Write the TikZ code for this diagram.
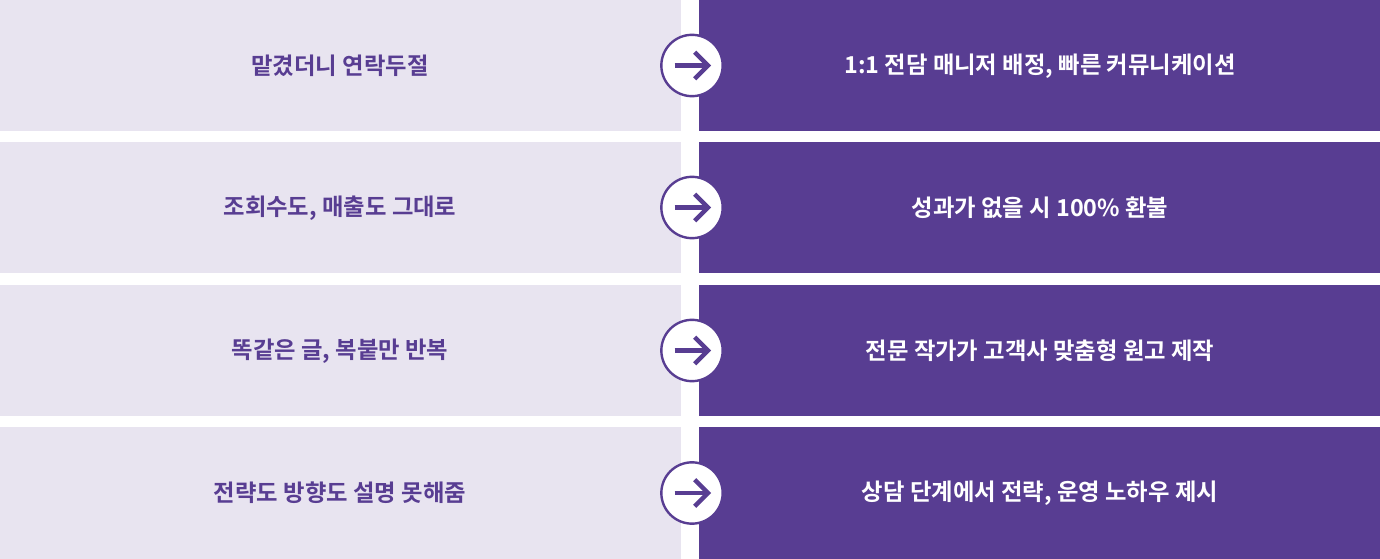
\documentclass[tikz,border=0pt]{standalone}
\usepackage{fontspec}
\setmainfont{Noto Sans CJK KR}[BoldFont={* Bold}]
\definecolor{lav}{HTML}{E8E4F0}
\definecolor{pur}{HTML}{583D92}
\begin{document}
\begin{tikzpicture}[x=0.75pt,y=-0.75pt,
  lbox/.style={fill=lav,draw=none},
  rbox/.style={fill=pur,draw=none},
  ltxt/.style={text=pur,font=\fontsize{17.5}{20}\selectfont\bfseries},
  rtxt/.style={text=white,font=\fontsize{17.5}{20}\selectfont\bfseries},
  circ/.style={circle,fill=white,draw=pur,line width=1.8pt,minimum size=46pt,inner sep=0pt}]
\fill[white] (0,0) rectangle (1380,559);
\foreach \t/\b/\i in {0/131/1,142/273/2,285/416/3,427/559/4}{
  \fill[lav] (0,\t) rectangle (681,\b);
  \fill[pur] (699,\t) rectangle (1380,\b);
  \node[circ] (c\i) at (692,{(\t+\b)/2}) {};
  \draw[pur,line width=3.2pt] ([xshift=-13pt]c\i.center) -- ([xshift=10pt]c\i.center);
  \draw[pur,line width=3.2pt,line join=miter] ([xshift=2pt,yshift=10pt]c\i.center) -- ([xshift=12pt]c\i.center) -- ([xshift=2pt,yshift=-10pt]c\i.center);
}
\node[ltxt] (l1) at (340,66) {맡겼더니 연락두절};
\node[ltxt] (l2) at (340,208) {조회수도, 매출도 그대로};
\node[ltxt] (l3) at (340,351) {똑같은 글, 복붙만 반복};
\node[ltxt] (l4) at (340,493) {전략도 방향도 설명 못해줌};
\node[rtxt] (r1) at (1040,66) {1:1 전담 매니저 배정, 빠른 커뮤니케이션};
\node[rtxt] (r2) at (1040,208) {성과가 없을 시 100\% 환불};
\node[rtxt] (r3) at (1040,351) {전문 작가가 고객사 맞춤형 원고 제작};
\node[rtxt] (r4) at (1040,493) {상담 단계에서 전략, 운영 노하우 제시};
\end{tikzpicture}
\end{document}
